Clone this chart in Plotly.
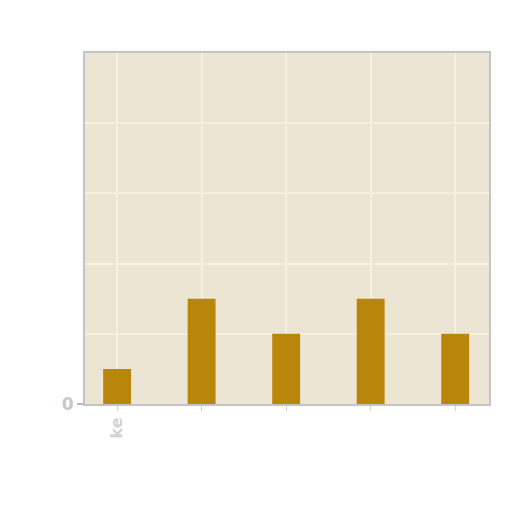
import plotly.graph_objects as go

# bar values, read against the grid (one grid step = 2)
categories = ["a", "b", "c", "d", "e"]
values = [1, 3, 2, 3, 2]
tick_labels = ["ke", "", "", "", ""]
y_ticks = [0]
y_tick_labels = ["0"]

fig = go.Figure(go.Bar(
    x=categories,
    y=values,
    width=0.33,
    marker={"color": "#b8860b", "line": {"width": 0}},
))

fig.update_layout(
    width=512,
    height=512,
    margin={"l": 77, "r": 31, "t": 45, "b": 116},
    paper_bgcolor="white",
    plot_bgcolor="#ece5d3",
    showlegend=False,
    font={"family": "DejaVu Sans", "color": "#c8c8c8"},
)
fig.update_xaxes(
    range=[-0.38, 4.4],
    tickvals=categories,
    ticktext=tick_labels,
    tickangle=-90,
    tickfont={"size": 16, "color": "#d2d2d2", "weight": "bold"},
    ticks="outside",
    ticklen=5,
    tickcolor="#d0d0d0",
    showgrid=True,
    gridcolor="#f7f0da",
    gridwidth=2,
    showline=True,
    linecolor="#c4c4c4",
    linewidth=2,
    mirror=True,
)
fig.update_yaxes(
    range=[0, 10],
    tickvals=y_ticks,
    ticktext=y_tick_labels,
    tickfont={"size": 17, "color": "#c8c8c8", "weight": "bold"},
    ticks="outside",
    ticklen=6,
    tickcolor="#b8b8b8",
    tickwidth=2,
    showgrid=True,
    gridcolor="#f7f0da",
    gridwidth=2,
    minor={"dtick": 2, "showgrid": True, "gridcolor": "#f7f0da", "gridwidth": 2, "ticks": ""},
    zeroline=False,
    showline=True,
    linecolor="#c4c4c4",
    linewidth=2,
    mirror=True,
)

fig.write_html("out.html")
